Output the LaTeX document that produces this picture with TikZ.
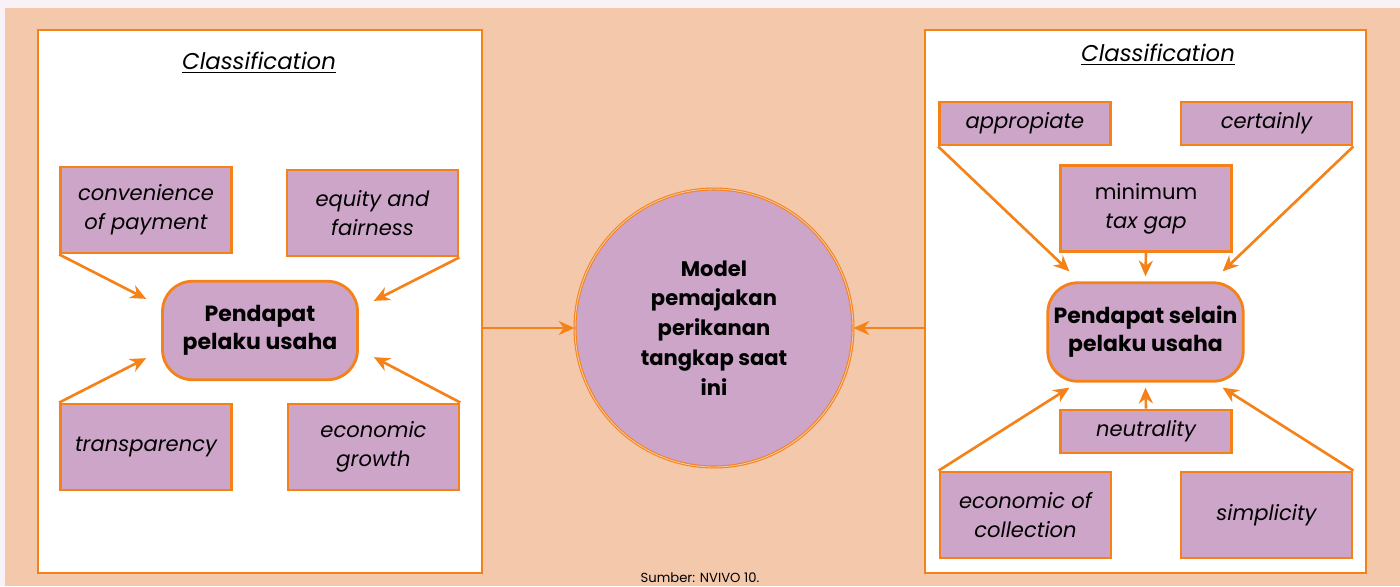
\documentclass[tikz,border=0pt]{standalone}
\usepackage{fontspec}
\setmainfont{Poppins}
\usepackage{xcolor}
\usepackage{tikz}
\usetikzlibrary{calc,arrows.meta}
\definecolor{peach}{RGB}{244,200,171}
\definecolor{lilac}{RGB}{204,165,200}
\definecolor{tangerine}{RGB}{245,130,25}
\definecolor{mist}{RGB}{248,242,246}

\begin{document}
\begin{tikzpicture}[x=0.02cm,y=-0.02cm,
    panel/.style={draw=tangerine,fill=white,line width=1.5pt,minimum height=10.86cm,inner sep=0pt},
    box/.style={draw=tangerine,fill=lilac,line width=1.6pt,inner sep=2pt,align=center,
        minimum width=3.42cm,font=\fontsize{12}{16.5}\selectfont\itshape},
    tallbox/.style={box,minimum height=1.72cm},
    flatbox/.style={box,minimum height=0.86cm},
    hub/.style={draw=tangerine,fill=lilac,line width=1.6pt,rounded corners=0.6cm,align=center,
        minimum width=3.9cm,minimum height=1.97cm,font=\fontsize{12.5}{16}\selectfont\bfseries},
    arr/.style={draw=tangerine,line width=1.5pt,-{Stealth[length=9pt,width=8pt]}},
    title/.style={font=\fontsize{13}{16}\selectfont\itshape}]

    % background
    \fill[mist] (0,0) rectangle (1400,586);
    \fill[peach] (5,8) rectangle (1400,586);
    \useasboundingbox (0,0) rectangle (1400,586);

    % left panel
    \node[panel,minimum width=8.88cm] (lp) at (260,301.5) {};
    \node[title] (lt) at (259,63) {\underline{Classification}};
    \node[tallbox] (conv) at (146,210) {convenience\\of payment};
    \node[tallbox] (equ) at (372.5,213) {equity and\\fairness};
    \node[tallbox] (trans) at (146,447) {transparency};
    \node[tallbox] (grow) at (373.5,447) {economic\\growth};
    \node[hub] (p1) at (260,330.5) {Pendapat\\pelaku usaha};

    \draw[arr] (conv.south west) -- ([shift={(-15,19)}]p1.north west);
    \draw[arr] (equ.south east) -- ([shift={(15,21)}]p1.north east);
    \draw[arr] (trans.north west) -- ([shift={(-15,-23)}]p1.south west);
    \draw[arr] (grow.north east) -- ([shift={(15,-24)}]p1.south east);

    % right panel
    \node[panel,minimum width=8.82cm] (rp) at (1145.5,301.5) {};
    \node[title] (rt) at (1158,55) {\underline{Classification}};
    \node[flatbox] (appr) at (1025,123.5) {appropiate};
    \node[flatbox] (cert) at (1266.5,123.5) {certainly};
    \node[tallbox] (gap) at (1146,208.5) {\upshape minimum\\tax gap};
    \node[hub] (p2) at (1145.5,332) {Pendapat selain\\pelaku usaha};
    \node[flatbox] (neut) at (1146,431.5) {neutrality};
    \node[tallbox] (coll) at (1025.5,515) {economic of\\collection};
    \node[tallbox] (simp) at (1266.5,515) {simplicity};

    \draw[arr] (appr.south west) -- ([shift={(23,-10)}]p2.north west);
    \draw[arr] (cert.south east) -- ([shift={(-22,-10)}]p2.north east);
    \draw[arr] (gap.south) -- ([shift={(0,-5)}]p2.north);
    \draw[arr] (coll.north west) -- ([shift={(23,5)}]p2.south west);
    \draw[arr] (simp.north east) -- ([shift={(-22,5)}]p2.south east);
    \draw[arr] (neut.north) -- ([shift={(0,5)}]p2.south);

    % centre
    \node[circle,draw=tangerine,double=peach,double distance=0.5pt,line width=0.6pt,fill=lilac,
        minimum size=5.56cm,align=center,font=\fontsize{12}{17}\selectfont\bfseries] (model) at (714,328)
        {Model\\pemajakan\\perikanan\\tangkap saat\\ini};
    \draw[arr] (model.west -| lp.east) -- (model.west);
    \draw[arr] (model.east -| rp.west) -- (model.east);

    \node[font=\fontsize{7.5}{9}\selectfont] (src) at (700,578) {Sumber: NVIVO 10.};
\end{tikzpicture}
\end{document}
